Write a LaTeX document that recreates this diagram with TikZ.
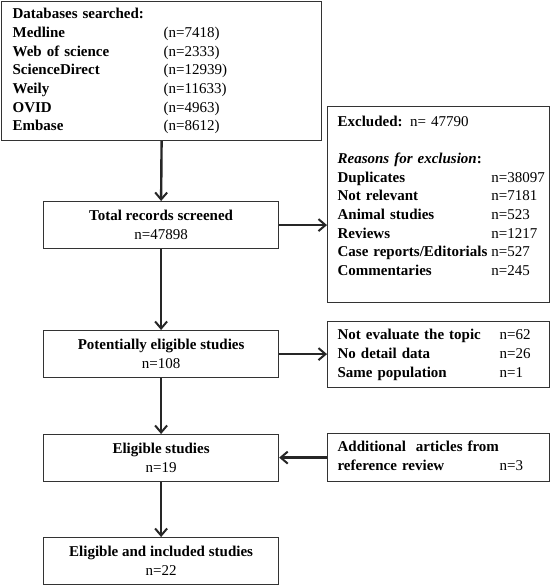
\documentclass[tikz,border=0pt]{standalone}
\usepackage{fontspec}
\setmainfont{Liberation Serif}
\usetikzlibrary{arrows.meta}

\begin{document}
\begin{tikzpicture}[x=1pt,y=-1pt,
	box/.style={draw=black!80,line width=1.2pt,anchor=north west,inner ysep=0pt,
		font=\fontsize{15}{18.7}\selectfont},
	sidebox/.style={box,minimum width=222pt,inner xsep=10pt,text width=202pt,align=left},
	mainbox/.style={box,minimum width=235pt,minimum height=47pt,align=center},
	arr/.style={-{Straight Barb[length=7pt,width=12pt,line width=2pt]},line width=2.4pt,draw=black!85}]
		\useasboundingbox (0,0) rectangle (550,586);
		% left column
		\node[box,minimum width=320pt,minimum height=139pt,inner xsep=11pt,text width=298pt,align=left] (db) at (1,1) {%
			\begin{tabular}{@{}p{151pt}@{}l@{}}
				\multicolumn{2}{@{}l@{}}{\textbf{Databases searched:}}\\
				\textbf{Medline} & (n=7418)\\
				\textbf{Web of science} & (n=2333)\\
				\textbf{ScienceDirect} & (n=12939)\\
				\textbf{Weily} & (n=11633)\\
				\textbf{OVID} & (n=4963)\\
				\textbf{Embase} & (n=8612)
			\end{tabular}};
		\node[mainbox] (total) at (43,201) {\textbf{Total records screened}\\n=47898};
		\node[mainbox] (potential) at (43,330) {\textbf{Potentially eligible studies}\\n=108};
		\node[mainbox] (eligible) at (43,434) {\textbf{Eligible studies}\\n=19};
		\node[mainbox] (included) at (43,537) {\textbf{Eligible and included studies}\\n=22};
		% right column
		\node[sidebox,minimum height=196pt] (excluded) at (327,106) {%
			\begin{tabular}{@{}l@{\hspace{4pt}}l@{}}
				\multicolumn{2}{@{}l@{}}{\textbf{Excluded:} n= 47790}\\
				\\
				\multicolumn{2}{@{}l@{}}{\textbf{\textit{Reasons for exclusion}:}}\\
				\textbf{Duplicates} & n=38097\\
				\textbf{Not relevant} & n=7181\\
				\textbf{Animal studies} & n=523\\
				\textbf{Reviews} & n=1217\\
				\textbf{Case reports/Editorials} & n=527\\
				\textbf{Commentaries} & n=245\\[15pt]
			\end{tabular}};
		\node[sidebox,minimum height=66pt] (reasons) at (327,321) {%
			\begin{tabular}{@{}p{162pt}@{}l@{}}
				\textbf{Not evaluate the topic} & n=62\\
				\textbf{No detail data} & n=26\\
				\textbf{Same population} & n=1
			\end{tabular}};
		\node[sidebox,minimum height=48pt] (additional) at (327,433) {%
			\begin{tabular}{@{}p{162pt}@{}l@{}}
				\multicolumn{2}{@{}l@{}}{\textbf{Additional\ \ articles from}}\\
				\textbf{reference review} & n=3
			\end{tabular}};
		% arrows
		\draw[arr] (db.south) -- (total.north);
		\draw[arr] (total.south) -- (potential.north);
		\draw[arr] (potential.south) -- (eligible.north);
		\draw[arr] (eligible.south) -- (included.north);
		\draw[arr] (total.east) -- (total.east -| excluded.west);
		\draw[arr] (potential.east) -- (potential.east -| reasons.west);
		\draw[arr] (additional.west) -- (additional.west -| eligible.east);
	\end{tikzpicture}
\end{document}
